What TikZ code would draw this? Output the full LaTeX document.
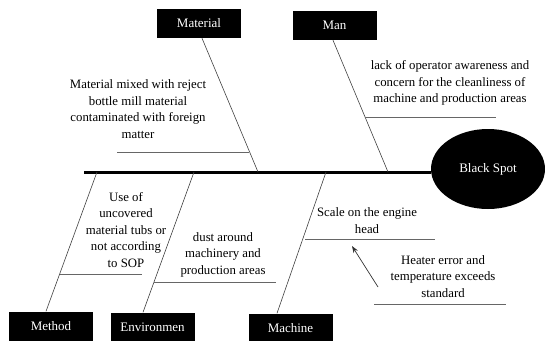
\documentclass[tikz,border=0pt]{standalone}
\usepackage{fontspec}
\setmainfont{Liberation Serif}
\usetikzlibrary{shapes.geometric,arrows.meta}
\begin{document}
\begin{tikzpicture}[x=1pt,y=-1pt,
  catbox/.style={fill=black,text=white,minimum width=84pt,minimum height=29pt,inner sep=0pt,font=\fontsize{13}{15}\selectfont},
  cause/.style={align=center,font=\fontsize{12.8}{16.5}\selectfont,inner sep=0pt},
  bone/.style={draw=black!75,line width=0.6pt},
  twig/.style={draw=black!60,line width=0.9pt},
  spine/.style={draw=black,line width=3pt}]
\useasboundingbox (0,0) rectangle (545,340);

% effect head
\node[ellipse,fill=black,text=white,minimum width=114pt,minimum height=80pt,inner sep=0pt,
      font=\fontsize{13}{15}\selectfont] (head) at (488,169) {Black Spot};

% category boxes
\node[catbox] (material) at (199,23.5) {Material};
\node[catbox] (man) at (334.5,25.5) {Man};
\node[catbox] (method) at (51,326) {Method};
\node[catbox] (environment) at (152.5,327) {Environmen};
\node[catbox] (machine) at (290.5,328) {Machine};

% main spine
\coordinate (tail) at (84,172);
\draw[spine] (tail) -- (head.west |- tail);

% points where the bones meet the spine
\coordinate (sMat) at (258,172);
\coordinate (sMan) at (388,172);
\coordinate (sMet) at (97,172);
\coordinate (sEnv) at (194,172);
\coordinate (sMac) at (326,172);

\draw[bone] (material.south) ++(3,0) -- (sMat);
\draw[bone] (man.south) ++(-1.5,0) -- (sMan);
\draw[bone] (method.north) ++(-5,0) -- (sMet);
\draw[bone] (environment.north) ++(-9.5,0) -- (sEnv);
\draw[bone] (machine.north) ++(-13.5,0) -- (sMac);

% sub-cause lines
\coordinate (a1) at (117,152); \coordinate (a2) at (249,152);
\coordinate (b1) at (365,117); \coordinate (b2) at (496,117);
\coordinate (c1) at (60,274);  \coordinate (c2) at (142,274);
\coordinate (d1) at (154,282); \coordinate (d2) at (276,282);
\coordinate (e1) at (305,239); \coordinate (e2) at (435,239);
\coordinate (f1) at (374,304); \coordinate (f2) at (506,304);
\draw[twig] (a1) -- (a2);
\draw[twig] (b1) -- (b2);
\draw[twig] (c1) -- (c2);
\draw[twig] (d1) -- (d2);
\draw[twig] (e1) -- (e2);
\draw[twig] (f1) -- (f2);

% cause texts
\node[cause] (tMat) at (138,109) {Material mixed with reject\\bottle mill material\\contaminated with foreign\\matter};
\node[cause] (tMan) at (450,83) {lack of operator awareness and\\concern for the cleanliness of\\machine and production areas};
\node[cause] (tMet) at (126,230) {Use of\\uncovered\\material tubs or\\not according\\to SOP};
\node[cause] (tEnv) at (223,254.5) {dust around\\machinery and\\production areas};
\node[cause] (tMac) at (367,220.5) {Scale on the engine\\head};
\node[cause] (tHeat) at (443,276.5) {Heater error and\\temperature exceeds\\standard};

% sub-cause arrow
\coordinate (arrS) at (378,287);
\coordinate (arrE) at (352,246);
\draw[draw=black!80,line width=0.7pt,-{Stealth[length=7pt,width=5pt]}] (arrS) -- (arrE);
\end{tikzpicture}
\end{document}
